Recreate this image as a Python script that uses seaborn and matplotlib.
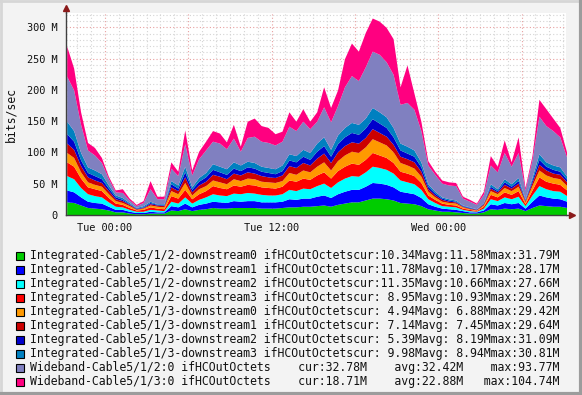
import numpy as np
import matplotlib
matplotlib.use("Agg")
import matplotlib.pyplot as plt
from matplotlib.patches import Rectangle
from matplotlib.lines import Line2D
import seaborn as sns

sns.set_style("white")
plt.rcParams["font.family"] = ["DejaVu Sans Mono"]

# time axis: hours relative to Tue 00:00, one sample every 30 min
hours = np.arange(-2.75, 33.3, 0.5)

# traffic per interface, Mbit/s
green = [21, 20, 16, 12, 11, 10, 8, 5, 5, 3, 2, 2, 3, 3, 3, 8, 7, 10, 7, 9,
         10, 12, 11, 11, 12, 12, 12, 12, 11, 11, 11, 12, 13, 13, 14, 14, 15, 16, 14, 17,
         19, 21, 21, 24, 27, 27, 26, 24, 20, 19, 18, 15, 10, 8, 6, 6, 5, 4, 3, 3,
         5, 10, 9, 11, 10, 11, 7, 12, 16, 15, 14, 14, 12]
blue = [19, 17, 13, 10, 9, 9, 6, 4, 4, 3, 2, 2, 3, 2, 2, 7, 6, 9, 6, 8,
        9, 10, 10, 9, 11, 10, 11, 11, 10, 10, 10, 10, 13, 12, 13, 13, 15, 16, 14, 17,
        19, 20, 20, 22, 25, 24, 23, 21, 18, 17, 16, 13, 8, 6, 5, 4, 4, 3, 2, 2,
        3, 8, 7, 9, 8, 9, 4, 10, 16, 14, 13, 12, 10]
cyan = [23, 21, 15, 12, 11, 10, 7, 5, 4, 3, 2, 2, 3, 3, 2, 7, 6, 10, 6, 8,
        10, 12, 11, 11, 12, 12, 13, 12, 12, 11, 11, 12, 15, 14, 16, 15, 17, 19, 16, 19,
        21, 22, 21, 23, 26, 25, 24, 22, 18, 17, 16, 13, 8, 6, 4, 4, 4, 2, 2, 1,
        3, 8, 7, 9, 8, 10, 4, 10, 15, 13, 12, 12, 9]
red = [22, 20, 15, 11, 11, 10, 7, 5, 4, 3, 2, 3, 4, 3, 3, 9, 8, 12, 7, 9,
       10, 13, 12, 11, 13, 12, 13, 13, 12, 12, 11, 12, 15, 15, 16, 15, 17, 18, 15, 18,
       19, 20, 19, 20, 22, 20, 19, 17, 14, 14, 13, 11, 6, 5, 4, 3, 3, 2, 2, 1,
       3, 7, 6, 8, 7, 9, 3, 8, 14, 12, 12, 11, 9]
orange = [15, 14, 10, 8, 7, 7, 6, 4, 3, 3, 1, 2, 3, 3, 3, 8, 7, 11, 6, 8,
          8, 9, 9, 8, 10, 9, 10, 10, 9, 9, 9, 9, 12, 11, 13, 12, 14, 16, 13, 16,
          18, 19, 19, 20, 22, 21, 20, 17, 14, 13, 12, 10, 6, 4, 3, 3, 3, 2, 1, 1,
          2, 6, 5, 7, 6, 7, 3, 7, 11, 10, 9, 9, 7]
darkred = [15, 13, 10, 8, 7, 6, 5, 3, 3, 2, 1, 1, 2, 2, 2, 6, 5, 9, 5, 6,
           7, 9, 9, 8, 9, 9, 10, 9, 9, 8, 8, 9, 11, 11, 12, 11, 13, 14, 12, 14,
           15, 15, 15, 15, 16, 15, 14, 12, 10, 10, 10, 8, 4, 3, 3, 2, 2, 1, 1, 1,
           2, 4, 3, 5, 4, 5, 2, 5, 9, 8, 7, 7, 6]
darkblue = [15, 13, 9, 7, 7, 6, 4, 3, 2, 1, 1, 1, 2, 1, 1, 5, 4, 8, 4, 6,
            7, 8, 7, 7, 8, 7, 8, 8, 7, 7, 6, 7, 9, 9, 10, 9, 11, 12, 10, 13,
            14, 15, 14, 15, 16, 15, 14, 12, 10, 9, 9, 7, 4, 3, 2, 2, 1, 1, 1, 0.5,
            1, 3, 2, 4, 3, 4, 1, 4, 8, 6, 6, 5, 4]
steelblue = [20, 17, 12, 9, 9, 8, 5, 3, 3, 2, 1, 2, 2, 1, 2, 5, 5, 9, 4, 6,
             7, 9, 9, 9, 10, 9, 9, 9, 8, 8, 8, 9, 10, 10, 11, 11, 13, 14, 11, 14,
             15, 16, 16, 16, 18, 18, 17, 15, 11, 11, 10, 8, 4, 3, 2, 2, 2, 1, 1, 0.5,
             1, 4, 3, 5, 4, 5, 2, 4, 9, 7, 7, 7, 5]
lavender = [72, 65, 45, 27, 24, 18, 10, 5, 8, 4, 3, 5, 20, 8, 8, 20, 15, 36, 19, 30,
            36, 36, 37, 32, 38, 22, 38, 42, 40, 40, 38, 38, 44, 40, 45, 38, 35, 48, 44, 47,
            65, 75, 70, 82, 90, 92, 88, 85, 62, 70, 65, 50, 30, 27, 22, 22, 23, 11, 9, 7,
            13, 30, 27, 42, 28, 40, 14, 28, 60, 58, 55, 48, 30]
pink = [48, 35, 20, 12, 12, 8, 4, 3, 6, 3, 2, 3, 13, 4, 4, 10, 7, 22, 8, 12,
        14, 17, 16, 11, 22, 8, 26, 29, 25, 24, 18, 16, 23, 15, 20, 12, 15, 32, 23, 25,
        45, 52, 47, 55, 53, 53, 55, 57, 28, 60, 26, 15, 7, 5, 5, 5, 5, 3, 3, 2,
        5, 15, 9, 20, 7, 25, 4, 7, 27, 27, 20, 15, 8]

series = [green, blue, cyan, red, orange, darkred, darkblue, steelblue, lavender, pink]
colors = ["#00cc00", "#0000ff", "#00ffff", "#ff0000", "#ff9900",
          "#cc0000", "#0000cc", "#0080c0", "#8080c0", "#ff0080"]

names = ["Integrated-Cable5/1/2-downstream0", "Integrated-Cable5/1/2-downstream1",
         "Integrated-Cable5/1/2-downstream2", "Integrated-Cable5/1/2-downstream3",
         "Integrated-Cable5/1/3-downstream0", "Integrated-Cable5/1/3-downstream1",
         "Integrated-Cable5/1/3-downstream2", "Integrated-Cable5/1/3-downstream3",
         "Wideband-Cable5/1/2:0", "Wideband-Cable5/1/3:0"]
cur_vals = [10.34, 11.78, 11.35, 8.95, 4.94, 7.14, 5.39, 9.98, 32.78, 18.71]
avg_vals = [11.58, 10.17, 10.66, 10.93, 6.88, 7.45, 8.19, 8.94, 32.42, 22.88]
max_vals = [31.79, 28.17, 27.66, 29.26, 29.42, 29.64, 31.09, 30.81, 93.77, 104.74]

W, H = 582, 395
fig = plt.figure(figsize=(W / 100, H / 100), dpi=100, facecolor="#f3f3f3")
ax = fig.add_axes([66 / W, 1 - 215 / H, 500 / W, 202 / H])
ax.set_facecolor("white")

ax.stackplot(hours, *series, colors=colors, linewidth=0)
ax.set_xlim(-2.8, 33.2)
ax.set_ylim(0, 323)

# grid like rrdtool: grey minor, red major
ax.set_xticks(np.arange(0, 33, 6))
ax.set_xticklabels(["Tue 00:00", "", "Tue 12:00", "", "Wed 00:00", ""])
ax.set_xticks(np.arange(-2, 34, 1), minor=True)
ax.set_yticks(np.arange(0, 301, 50))
ax.set_yticklabels(["0"] + [f"{v} M" for v in range(50, 301, 50)])
ax.set_yticks(np.arange(0, 321, 10), minor=True)
ax.set_axisbelow(True)
ax.grid(which="minor", color="#d4d4d4", linestyle=(0, (1, 2)), linewidth=0.8)
ax.grid(which="major", color="#e8a0a0", linestyle=(0, (1, 2)), linewidth=0.8)

ax.tick_params(axis="both", which="major", labelsize=7.4, colors="#404040",
               labelcolor="#111111", length=2.5, width=0.8)
ax.tick_params(axis="both", which="minor", length=0)
ax.tick_params(axis="x", pad=3)
ax.tick_params(axis="y", pad=3.5)

for s in ["top", "right"]:
    ax.spines[s].set_visible(False)
for s in ["left", "bottom"]:
    ax.spines[s].set_color("#404040")
    ax.spines[s].set_linewidth(1)

# axis arrows
ax.plot([0, 0], [1, 1.025], transform=ax.transAxes, color="#404040", lw=1, clip_on=False)
ax.plot([0], [1.025], marker="^", color="#8b1a1a", ms=5, transform=ax.transAxes, clip_on=False)
ax.plot([1, 1.012], [0, 0], transform=ax.transAxes, color="#404040", lw=1, clip_on=False)
ax.plot([1.012], [0], marker=">", color="#8b1a1a", ms=5, transform=ax.transAxes, clip_on=False)

fig.text(11 / W, 1 - 115 / H, "bits/sec", rotation=90, fontsize=8.3,
         ha="center", va="center", color="#111111")

# legend
for i, name in enumerate(names):
    yc = 255.7 + 14 * i
    fig.patches.append(Rectangle((15.5 / W, 1 - (yc + 4) / H), 8 / W, 8 / H,
                                 facecolor=colors[i], edgecolor="black", lw=0.8,
                                 transform=fig.transFigure, figure=fig))
    if name.startswith("Integrated"):
        label = (f"{name} ifHCOutOctetscur:{cur_vals[i]:5.2f}M"
                 f"avg:{avg_vals[i]:5.2f}Mmax:{max_vals[i]:5.2f}M")
    else:
        label = (f"{name} ifHCOutOctets" + f"cur:{cur_vals[i]:.2f}M".rjust(14)
                 + f"avg:{avg_vals[i]:.2f}M".rjust(14) + f"max:{max_vals[i]:.2f}M".rjust(14))
    fig.text(30.5 / W, 1 - yc / H, label, fontsize=8.3, va="center", color="#111111")

# frame shading
fig.add_artist(Line2D([0, 1], [1 - 1 / H, 1 - 1 / H], color="#d6d6d6", lw=2))
fig.add_artist(Line2D([1 / W, 1 / W], [0, 1], color="#d6d6d6", lw=2))
fig.add_artist(Line2D([1 - 1.5 / W, 1 - 1.5 / W], [0, 1], color="#9c9c9c", lw=3))
fig.add_artist(Line2D([0, 1], [1.5 / H, 1.5 / H], color="#9c9c9c", lw=3))

fig.savefig("out.png", dpi=100, facecolor=fig.get_facecolor())
